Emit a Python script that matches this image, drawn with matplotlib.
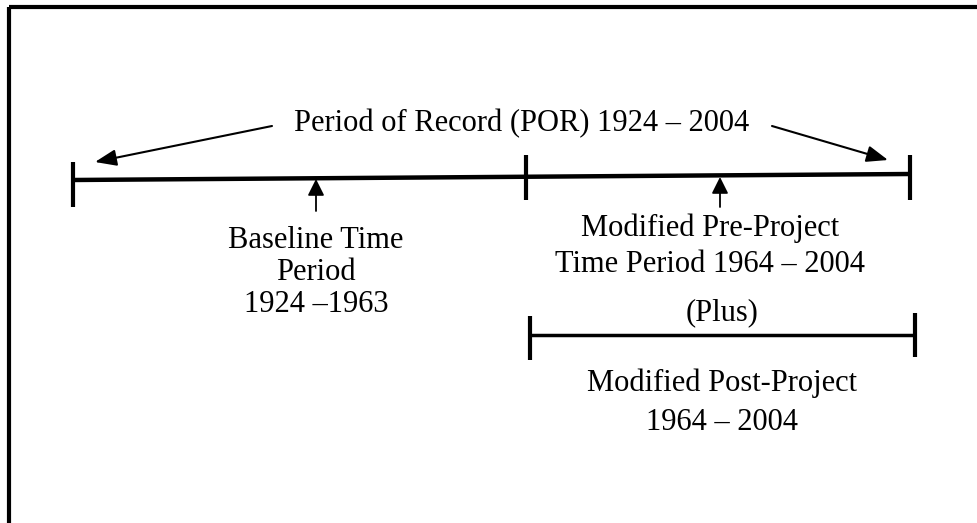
import matplotlib
matplotlib.use("Agg")
import matplotlib.pyplot as plt
from matplotlib.patches import Rectangle

# period labels and years
por_years = (1924, 2004)
baseline_years = (1924, 1963)
modified_years = (1964, 2004)

por_label = f"Period of Record (POR) {por_years[0]} \u2013 {por_years[1]}"
baseline_lines = ["Baseline Time", "Period", f"{baseline_years[0]} \u2013{baseline_years[1]}"]
pre_lines = ["Modified Pre-Project", f"Time Period {modified_years[0]} \u2013 {modified_years[1]}"]
plus_label = "(Plus)"
post_lines = ["Modified Post-Project", f"{modified_years[0]} \u2013 {modified_years[1]}"]

# layout in pixel coordinates (y down)
W, H = 977, 523
main_x = [73, 910]
main_y = [180, 174]
ticks_main = [(73, 162, 207), (526, 155, 200), (910, 155, 200)]
post_x = [530, 915]
post_y = 335
ticks_post = [(530, 316, 360), (915, 313, 357)]

plt.rcParams["font.family"] = ["Liberation Serif", "DejaVu Serif"]
FS = 22

fig = plt.figure(figsize=(W / 100, H / 100), dpi=100)
ax = fig.add_axes([0, 0, 1, 1])
ax.set_xlim(0, W)
ax.set_ylim(H, 0)
ax.axis("off")

# outer frame (runs off the right and bottom edges)
ax.add_patch(Rectangle((9, 7), 1100, 700, fill=False, lw=3, ec="black"))

# main timeline
ax.plot(main_x, main_y, color="black", lw=3.2, solid_capstyle="butt")
for x, y0, y1 in ticks_main:
    ax.plot([x, x], [y0, y1], color="black", lw=3, solid_capstyle="butt")

# POR label with arrows
ax.text(522, 124, por_label, ha="center", va="center", fontsize=FS)
arrow = dict(arrowstyle="-|>,head_length=1.3,head_width=0.5", color="black", lw=1.5,
             shrinkA=0, shrinkB=0)
ax.annotate("", xy=(95, 162), xytext=(272, 126), arrowprops=arrow)
ax.annotate("", xy=(888, 160), xytext=(772, 126), arrowprops=arrow)

# up arrows to the segments
up = dict(arrowstyle="-|>,head_length=1.0,head_width=0.5", color="black", lw=1.3,
          shrinkA=0, shrinkB=0)
ax.annotate("", xy=(316, 179), xytext=(316, 211), arrowprops=up)
ax.annotate("", xy=(720, 177), xytext=(720, 207), arrowprops=up)

for i, line in enumerate(baseline_lines):
    ax.text(316, 240 + i * 32, line, ha="center", va="center", fontsize=FS)
for i, line in enumerate(pre_lines):
    ax.text(710, 228 + i * 37, line, ha="center", va="center", fontsize=FS)

ax.text(722, 313, plus_label, ha="center", va="center", fontsize=FS)

# post-project bar
ax.plot(post_x, [post_y, post_y], color="black", lw=2.5, solid_capstyle="butt")
for x, y0, y1 in ticks_post:
    ax.plot([x, x], [y0, y1], color="black", lw=3, solid_capstyle="butt")

for i, line in enumerate(post_lines):
    ax.text(722, 383 + i * 39, line, ha="center", va="center", fontsize=FS)

fig.savefig("out.png", dpi=100)
